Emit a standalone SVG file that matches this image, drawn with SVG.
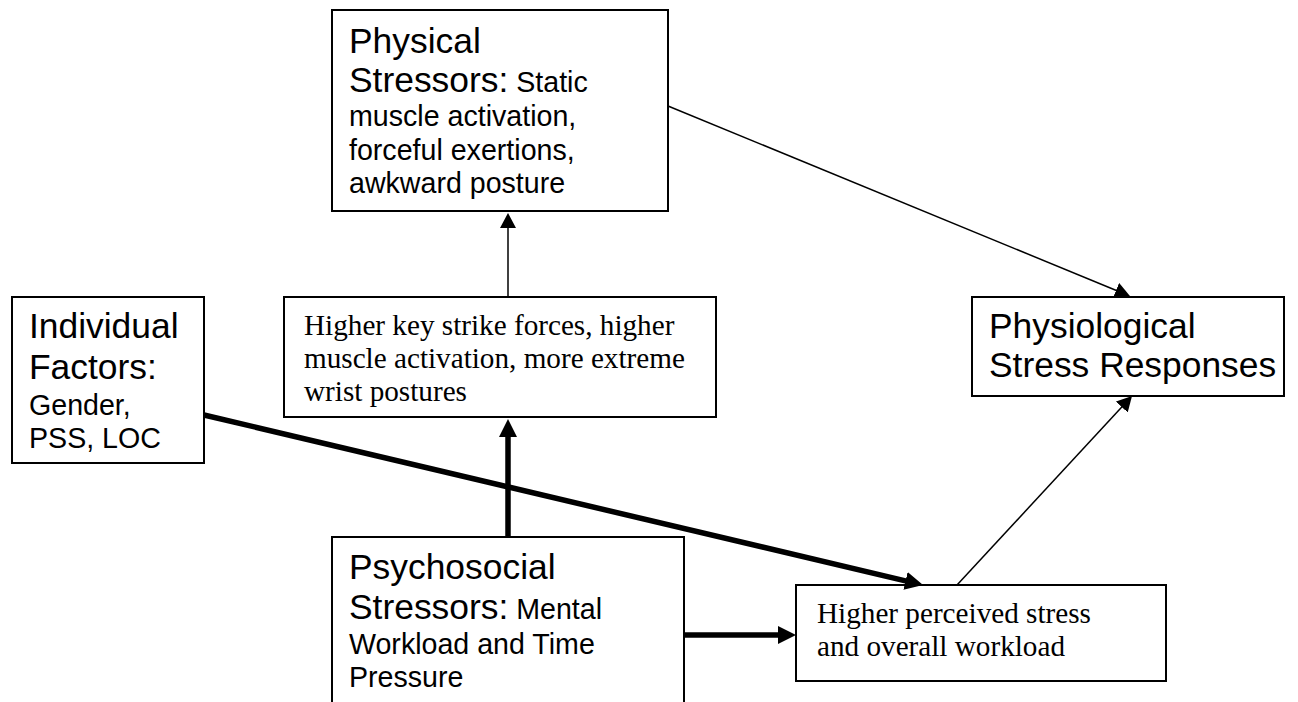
<svg xmlns="http://www.w3.org/2000/svg" width="1298" height="702" viewBox="0 0 1298 702">
<style>
.box{fill:#fff;stroke:#000;stroke-width:2}
.big{font-family:"Liberation Sans",Arial,sans-serif;font-size:35.4px;fill:#000}
.sm{font-family:"Liberation Sans",Arial,sans-serif;font-size:28.6px;fill:#000}
.tm{font-family:"Liberation Serif","Times New Roman",serif;font-size:29.2px;fill:#000}
.thin{stroke:#000;stroke-width:1.5;fill:none}
.thick{stroke:#000;stroke-width:5.5;fill:none}
</style>
<defs>
<marker id="ahThin" markerUnits="userSpaceOnUse" markerWidth="16" markerHeight="16" refX="1" refY="8" orient="auto" viewBox="0 0 16 16"><path d="M0,0 L15,8 L0,16 z" fill="#000"/></marker>
<marker id="ahThick" markerUnits="userSpaceOnUse" markerWidth="19" markerHeight="18" refX="1" refY="9" orient="auto" viewBox="0 0 19 18"><path d="M0,0 L18,9 L0,18 z" fill="#000"/></marker>
</defs>
<rect width="1298" height="702" fill="#fff"/>
<g id="physical">
<rect class="box" x="332" y="10" width="336" height="201"/>
<text class="big" x="349" y="53">Physical</text>
<text x="349" y="92"><tspan class="big">Stressors:</tspan><tspan class="sm"> Static</tspan></text>
<text class="sm" x="349" y="126">muscle activation,</text>
<text class="sm" x="349" y="159.5">forceful exertions,</text>
<text class="sm" x="349" y="193">awkward posture</text>
</g>
<g id="individual">
<rect class="box" x="12" y="297" width="192" height="166"/>
<text class="big" x="29" y="338">Individual</text>
<text class="big" x="29" y="379">Factors:</text>
<text class="sm" x="29" y="415">Gender,</text>
<text class="sm" x="29" y="448">PSS, LOC</text>
</g>
<g id="higherkey">
<rect class="box" x="284" y="297" width="432" height="120"/>
<text class="tm" x="304" y="335">Higher key strike forces, higher</text>
<text class="tm" x="304" y="368">muscle activation, more extreme</text>
<text class="tm" x="304" y="401">wrist postures</text>
</g>
<g id="physiological">
<rect class="box" x="972" y="297" width="312" height="99"/>
<text class="big" x="989" y="338">Physiological</text>
<text class="big" x="989" y="377">Stress Responses</text>
</g>
<g id="psychosocial">
<rect class="box" x="332" y="537" width="352" height="180"/>
<text class="big" x="349" y="579">Psychosocial</text>
<text x="349" y="619"><tspan class="big">Stressors:</tspan><tspan class="sm"> Mental</tspan></text>
<text class="sm" x="349" y="654">Workload and Time</text>
<text class="sm" x="349" y="687">Pressure</text>
</g>
<g id="perceived">
<rect class="box" x="796" y="585" width="370" height="96"/>
<text class="tm" x="817" y="623">Higher perceived stress</text>
<text class="tm" x="817" y="656">and overall workload</text>
</g>
<g id="connectors">
<line class="thin" x1="508" y1="297" x2="508" y2="227" marker-end="url(#ahThin)"/>
<line class="thick" x1="508" y1="537" x2="508" y2="436" marker-end="url(#ahThick)"/>
<line class="thin" x1="668" y1="106" x2="1117" y2="290.7" marker-end="url(#ahThin)"/>
<line class="thin" x1="957" y1="585" x2="1122.5" y2="406.3" marker-end="url(#ahThin)"/>
<line class="thick" x1="204" y1="415" x2="906.5" y2="581.1" marker-end="url(#ahThick)"/>
<line class="thick" x1="684" y1="635" x2="779" y2="635" marker-end="url(#ahThick)"/>
</g>
</svg>
